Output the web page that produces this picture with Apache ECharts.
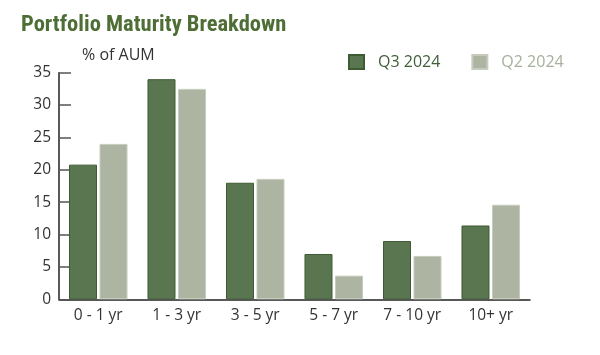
<!DOCTYPE html>
<html><head><meta charset="utf-8">
<script src="https://cdn.jsdelivr.net/npm/echarts@6/dist/echarts.min.js"></script>
<style>html,body{margin:0;padding:0;background:#fff}#c{width:600px;height:355px}</style>
</head><body><div id="c"></div>
<script>
const categories = ['0 - 1 yr', '1 - 3 yr', '3 - 5 yr', '5 - 7 yr', '7 - 10 yr', '10+ yr'];
const q3_2024 = [20.8, 34.0, 18.0, 7.0, 9.0, 11.4];
const q2_2024 = [24.0, 32.5, 18.6, 3.65, 6.7, 14.6];
const yTicks = [0, 5, 10, 15, 20, 25, 30, 35];

const font = '"Open Sans", "Noto Sans", sans-serif';
const chart = echarts.init(document.getElementById('c'), null, {renderer: 'canvas'});
chart.setOption({
  animation: false,
  backgroundColor: '#fff',
  title: {
    text: 'Portfolio Maturity Breakdown',
    left: 16, top: 9,
    textStyle: {fontFamily: '"Liberation Sans Narrow", "Roboto Condensed", sans-serif', fontWeight: 'bold', fontSize: 22.5, color: '#4e6e35'}
  },
  graphic: [{
    type: 'text', left: 82, top: 47,
    style: {text: '% of AUM', font: '16px ' + font, fill: '#333'}
  }],
  legend: {
    top: 49, left: 343,
    itemWidth: 15, itemHeight: 14, itemGap: 31,
    icon: 'rect',
    textStyle: {fontFamily: font, fontSize: 16, padding: [0, 0, 0, 9]},
    data: [
      {name: 'Q3 2024', textStyle: {color: '#3f5e38'}},
      {name: 'Q2 2024', textStyle: {color: '#a6b09c'}}
    ]
  },
  grid: {left: 59, right: 70, top: 72.7, bottom: 55.7},
  xAxis: {
    type: 'category', data: categories,
    axisLine: {lineStyle: {color: '#222', width: 1.5}},
    axisTick: {inside: true, length: 5, lineStyle: {color: '#222'}},
    axisLabel: {fontFamily: font, fontSize: 15.5, color: '#333', margin: 8}
  },
  yAxis: {
    type: 'value', min: 0, max: 35, interval: 5,
    splitLine: {show: false},
    axisLine: {show: true, lineStyle: {color: '#222', width: 1.5}},
    axisTick: {show: true, inside: true, length: 12, lineStyle: {color: '#555', width: 1.5}},
    axisLabel: {fontFamily: font, fontSize: 15.5, color: '#333', margin: 8,
      formatter: v => yTicks.includes(v) ? String(v) : ''}
  },
  series: [
    {name: 'Q3 2024', type: 'bar', data: q3_2024, barWidth: 28, barGap: '9%',
     itemStyle: {color: '#5a7650', borderColor: '#3e5b33', borderWidth: 1}},
    {name: 'Q2 2024', type: 'bar', data: q2_2024, barWidth: 28,
     itemStyle: {color: '#adb5a2', borderColor: '#c6ccbd', borderWidth: 1}}
  ]
});
</script></body></html>
